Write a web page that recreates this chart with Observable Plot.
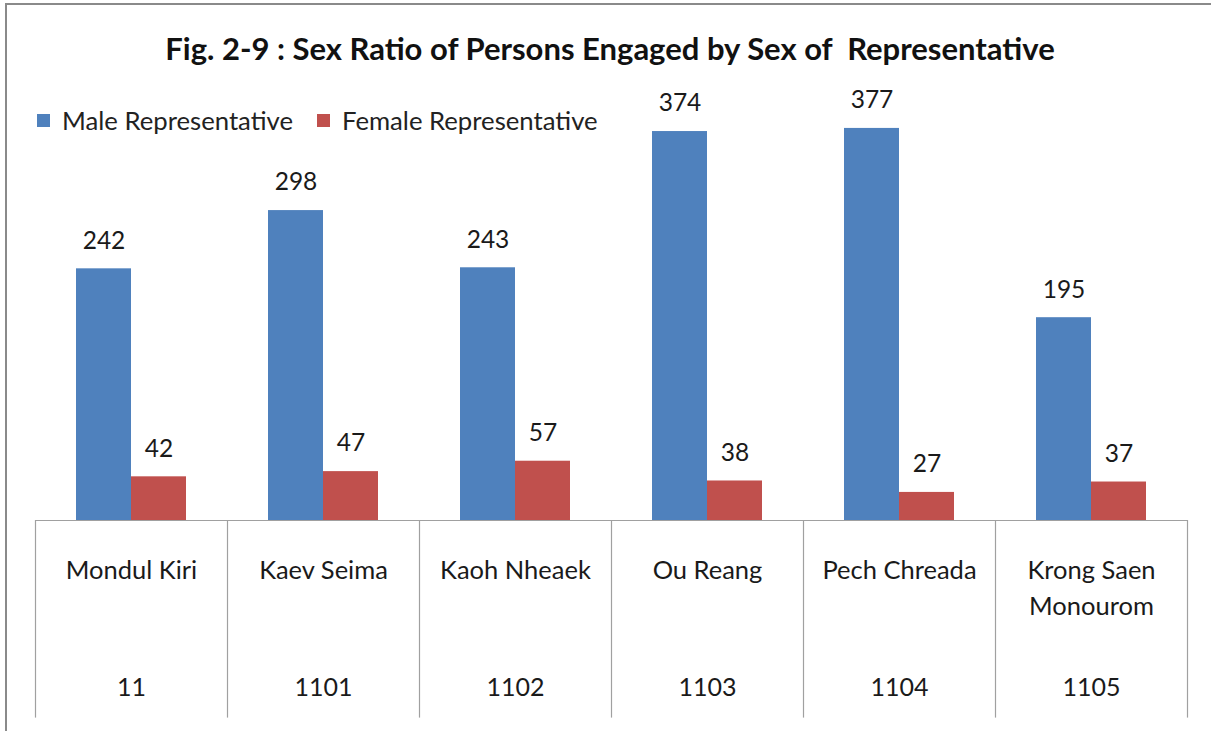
<!DOCTYPE html>
<html>
<head>
<meta charset="utf-8">
<script src="https://cdn.jsdelivr.net/npm/d3@7"></script>
<script src="https://cdn.jsdelivr.net/npm/@observablehq/plot@0.6"></script>
<style>
  html, body { margin: 0; padding: 0; background: #fff; }
  #wrap { position: relative; width: 1211px; height: 731px; overflow: hidden; font-family: Lato, "Open Sans", sans-serif; }
  #frame { position: absolute; left: 5px; top: 3px; width: 1300px; height: 800px; border-left: 2px solid #8a8a8a; border-top: 2px solid #8a8a8a; }
  #title { position: absolute; left: 0; width: 1220px; top: 30px; line-height: 36px; text-align: center; font-weight: bold; font-size: 31px; color: #111; white-space: pre; }
  #legend { position: absolute; left: 37px; top: 104px; line-height: 32px; font-size: 25.7px; color: #222; display: flex; align-items: center; }
  .sw { display: inline-block; width: 13px; height: 13px; margin-right: 12px; }
  .item { display: flex; align-items: center; margin-right: 24px; }
  #chart { position: absolute; left: 0; top: 0; }
</style>
</head>
<body>
<div id="wrap">
  <div id="frame"></div>
  <div id="chart"></div>
  <div id="title"></div>
  <div id="legend"></div>
</div>
<script>
const titleText = "Fig. 2-9 : Sex Ratio of Persons Engaged by Sex of  Representative";
const categories = ["Mondul Kiri", "Kaev Seima", "Kaoh Nheaek", "Ou Reang", "Pech Chreada", "Krong Saen\nMonourom"];
const codes = ["11", "1101", "1102", "1103", "1104", "1105"];
const male = [242, 298, 243, 374, 377, 195];
const female = [42, 47, 57, 38, 27, 37];
const seriesNames = ["Male Representative", "Female Representative"];
const colors = ["#4F81BD", "#C0504D"];

document.getElementById("title").textContent = titleText;
const legend = document.getElementById("legend");
seriesNames.forEach((s, i) => {
  const it = document.createElement("div");
  it.className = "item";
  it.innerHTML = `<span class="sw" style="background:${colors[i]}"></span><span>${s}</span>`;
  legend.appendChild(it);
});

const rows = categories.map((c, i) => ({category: c, code: codes[i], male: male[i], female: female[i]}));

// table depth below baseline, in y units
const tableDepth = -190;

const W = 1211, H = 731;
const marginLeft = 35, marginRight = 24, marginTop = 104, marginBottom = 211;
const step = (W - marginLeft - marginRight) / categories.length;
const barW = 55;
const gap = (step - 2 * barW) / 2;

const chart = Plot.plot({
  width: W,
  height: H,
  marginLeft, marginRight, marginTop, marginBottom,
  style: {fontFamily: "Lato, 'Open Sans', sans-serif", background: "transparent", overflow: "visible"},
  x: {domain: categories, padding: 0, axis: null},
  y: {domain: [0, 400], axis: null},
  marks: [
    Plot.barY(rows, {x: "category", y: "male", fill: colors[0], insetLeft: gap, insetRight: gap + barW}),
    Plot.barY(rows, {x: "category", y: "female", fill: colors[1], insetLeft: gap + barW, insetRight: gap}),
    Plot.text(rows, {x: "category", y: "male", text: d => String(d.male), dx: -barW / 2, dy: -28, fontSize: 24.5, fill: "#1a1a1a"}),
    Plot.text(rows, {x: "category", y: "female", text: d => String(d.female), dx: barW / 2, dy: -28, fontSize: 24.5, fill: "#1a1a1a"}),
    // table grid
    Plot.ruleY([0], {stroke: "#a0a0a0", strokeWidth: 1.2}),
    Plot.ruleX(rows, {x: "category", y1: 0, y2: tableDepth, dx: -step / 2, stroke: "#a0a0a0", strokeWidth: 1.2}),
    Plot.ruleX(rows.slice(-1), {x: "category", y1: 0, y2: tableDepth, dx: step / 2, stroke: "#a0a0a0", strokeWidth: 1.2}),
    Plot.text(rows, {x: "category", y: 0, text: "category", lineAnchor: "top", dy: 33, fontSize: 25.5, lineHeight: 1.41, fill: "#1a1a1a"}),
    Plot.text(rows, {x: "category", y: 0, text: "code", lineAnchor: "middle", dy: 167, fontSize: 25, fill: "#1a1a1a"})
  ]
});
document.getElementById("chart").appendChild(chart);
</script>
</body>
</html>
